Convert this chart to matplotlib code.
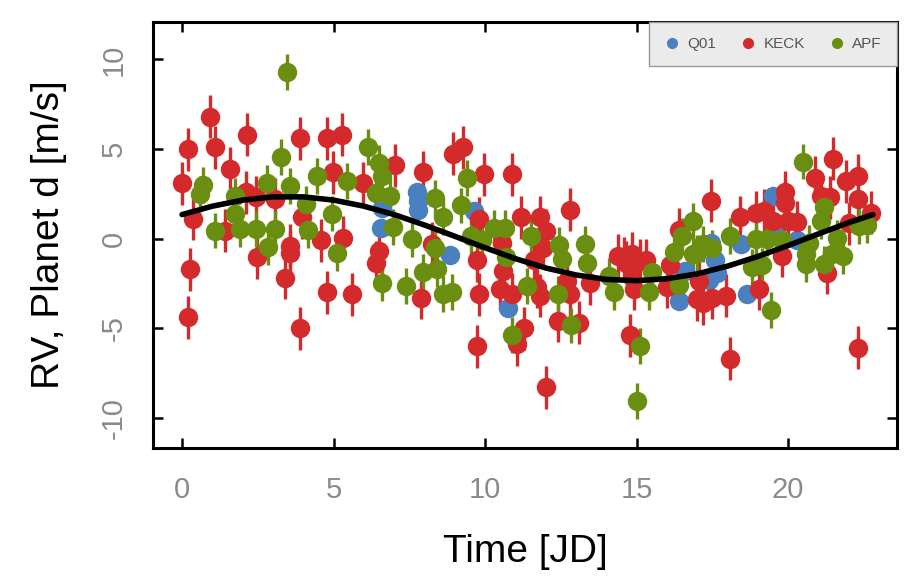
import matplotlib
matplotlib.use("Agg")
import matplotlib.pyplot as plt
import numpy as np

plt.rcParams['font.family'] = ['Liberation Sans', 'DejaVu Sans']
plt.rcParams['axes.unicode_minus'] = False

# Q01 (blue)
q01_t = [6.6, 6.55, 7.75, 7.8, 7.8, 8.83, 9.65, 10.75, 16.4, 16.6, 17.4, 17.65,
         17.6, 17.45, 18.45, 18.65, 19.5, 19.6, 20.3]
q01_rv = [1.7, 0.6, 2.6, 2.1, 1.6, -0.9, 1.55, -3.9, -3.5, -1.8, -2.3, -1.9,
          -1.2, -0.25, -0.3, -3.1, 2.4, 0.35, -0.1]

# KECK (red)
keck_t = [0.0, 0.2, 0.92, 1.09, 2.14, 3.9, 4.78, 5.27, 1.58, 4.98, 5.96, 7.02,
          7.94, 8.93, 9.26, 9.98, 10.9, 0.36, 1.42, 2.1, 2.45, 3.06, 2.47, 3.56,
          3.56, 3.95, 4.6, 5.3, 3.4, 0.26, 0.2, 4.78, 5.6, 3.9, 6.5, 6.4,
          7.9, 8.24, 9.75, 9.8, 9.8, 10.6, 10.5, 10.9, 10.55, 9.75, 11.05, 11.3,
          12.0, 14.8, 18.1, 22.3, 12.4, 13.1, 11.7, 11.8, 12.7, 12.8, 13.45, 14.6,
          15.1, 14.85, 14.4, 14.85, 14.65, 15.3, 14.9, 16.0, 16.1, 17.0, 17.2, 17.5,
          17.95, 17.05, 19.05, 19.8, 21.3, 11.2, 11.8, 12.0, 11.9, 11.6, 12.8, 16.4,
          17.45, 18.4, 18.95, 19.2, 19.9, 19.9, 19.5, 20.0, 20.3, 20.9, 21.5, 21.9,
          22.3, 21.1, 21.4, 22.3, 22.75, 22.0]
keck_rv = [3.1, 5.0, 6.8, 5.1, 5.8, 5.6, 5.6, 5.8, 3.9, 3.7, 3.1, 4.1,
           3.7, 4.75, 5.1, 3.6, 3.6, 1.1, 0.45, 2.6, 2.3, 2.2, -1.05, -0.4,
           -0.8, 1.2, -0.1, 0.05, -2.2, -1.7, -4.4, -3.0, -3.1, -5.0, -0.7, -1.35,
           -3.3, -0.3, -1.2, -3.1, 1.1, -1.8, -2.8, -3.1, -0.25, -6.0, -5.9, -5.0,
           -8.3, -5.4, -6.7, -6.1, -4.6, -4.7, -2.7, -3.2, -2.35, -3.1, -2.5, -1.1,
           -1.25, -1.8, -0.95, -0.85, -1.35, -1.2, -2.8, -2.7, -1.5, -3.4, -3.6, -3.3,
           -3.2, -2.35, -2.8, -0.95, -1.9, 1.2, 1.2, 0.45, -0.5, -1.2, 1.6, 0.5,
           2.1, 1.2, 1.45, 1.55, 2.6, 2.0, 1.0, 1.0, 0.9, 3.4, 4.45, 3.2,
           3.5, 2.4, 2.3, 2.2, 1.45, 0.85]

# APF (green)
apf_t = [3.46, 3.27, 0.7, 0.6, 2.8, 3.56, 4.45, 5.44, 6.13, 6.5, 6.6, 6.4,
         6.85, 8.34, 9.2, 9.4, 1.1, 1.75, 1.9, 2.45, 3.06, 4.15, 4.1, 4.94,
         6.95, 7.6, 8.6, 10.3, 10.65, 2.84, 5.1, 8.34, 6.6, 7.4, 7.95, 8.4,
         8.6, 8.9, 10.7, 10.9, 15.1, 15.0, 19.45, 11.4, 12.4, 12.85, 12.45, 12.55,
         13.3, 13.35, 14.25, 14.1, 15.4, 15.5, 16.4, 16.25, 16.5, 16.85, 16.85, 17.2,
         17.0, 17.5, 18.1, 18.8, 19.15, 18.95, 19.3, 19.8, 20.6, 21.2, 21.8, 21.45,
         20.5, 21.2, 21.1, 22.35, 22.6, 20.6, 20.7, 21.6, 11.5, 1.75, 9.55, 9.9]
apf_rv = [9.3, 4.55, 3.0, 2.5, 3.1, 2.95, 3.5, 3.2, 5.1, 4.2, 3.5, 2.55,
          2.4, 2.25, 1.85, 3.4, 0.45, 1.4, 0.55, 0.55, 0.55, 0.5, 1.95, 1.4,
          0.65, -0.05, 1.2, 0.6, 0.6, -0.45, -0.8, -0.5, -2.5, -2.65, -1.85, -1.7,
          -3.1, -3.0, -1.05, -5.4, -6.0, -9.05, -4.0, -2.65, -3.1, -4.85, -0.35, -1.15,
          -0.3, -1.35, -3.0, -2.1, -3.0, -1.85, -2.6, -0.75, 0.15, 1.0, -0.85, -0.3,
          -0.8, -0.5, 0.15, -1.6, -1.5, 0.0, 0.0, -0.1, -1.4, -1.4, -1.0, -0.85,
          4.3, 1.75, 1.0, 0.7, 0.75, -0.85, -0.25, 0.05, 0.15, 2.4, 0.15, -0.1]

# typical error bar half-lengths per instrument [m/s]
q01_err = 0.4
keck_err = 1.2
apf_err = 1.0

# model curve
model_t = [0, 1, 2, 3, 4, 5, 6, 7, 8, 9, 10, 11, 12, 13, 14, 15, 16, 17, 18,
           19, 20, 21, 22, 22.8]
model_rv = [1.34, 1.81, 2.15, 2.33, 2.33, 2.15, 1.81, 1.34, 0.76, 0.13, -0.51,
            -1.12, -1.64, -2.03, -2.28, -2.35, -2.24, -1.97, -1.54, -1.00, -0.39,
            0.26, 0.89, 1.34]

colores = {'Q01': '#4a7fc0', 'KECK': '#d42a2c', 'APF': '#6a8e10'}

fig = plt.figure(figsize=(9.08, 5.76), dpi=100)
ax = fig.add_axes([0.1685, 0.222, 0.8195, 0.740])

series = [('Q01', q01_t, q01_rv, q01_err),
          ('KECK', keck_t, keck_rv, keck_err),
          ('APF', apf_t, apf_rv, apf_err)]
for nombre, t, rv, err in series:
    ax.errorbar(t, rv, yerr=err, fmt='o', color=colores[nombre], ms=14,
                elinewidth=2.4, capsize=0, mew=0, label=nombre, zorder=2)

ax.plot(model_t, model_rv, color='black', lw=4, zorder=5,
        solid_capstyle='round')

ax.set_xlim(-0.96, 23.6)
ax.set_ylim(-11.7, 12.1)
ax.set_xticks([0, 5, 10, 15, 20])
ax.set_yticks([-10, -5, 0, 5, 10])
ax.tick_params(direction='in', length=7, width=1.8, top=True, right=True,
               labelsize=21, labelcolor='#8a8a8a', pad=20)
ax.tick_params(axis='y', labelrotation=90, pad=18)
for lab in ax.get_yticklabels():
    lab.set_va('center')
for s in ax.spines.values():
    s.set_linewidth(2.2)

ax.set_xlabel('Time [JD]', fontsize=28, labelpad=22)
ax.set_ylabel('RV, Planet d [m/s]', fontsize=28, labelpad=24)

handles = [plt.Line2D([], [], marker='o', ls='', color=colores[n], ms=7)
           for n in ['Q01', 'KECK', 'APF']]
leg = ax.legend(handles, ['Q01', 'KECK', 'APF'], loc='upper right', ncol=3,
                fontsize=11, frameon=True, fancybox=False, borderaxespad=0,
                handletextpad=0.5, columnspacing=1.6, borderpad=1.0,
                handlelength=1.0)
leg.get_frame().set_facecolor('#ebebeb')
leg.get_frame().set_edgecolor('#9a9a9a')
leg.get_frame().set_alpha(1)
for txt in leg.get_texts():
    txt.set_color('#555555')
leg.set_zorder(10)

fig.savefig('out.png', dpi=100)
